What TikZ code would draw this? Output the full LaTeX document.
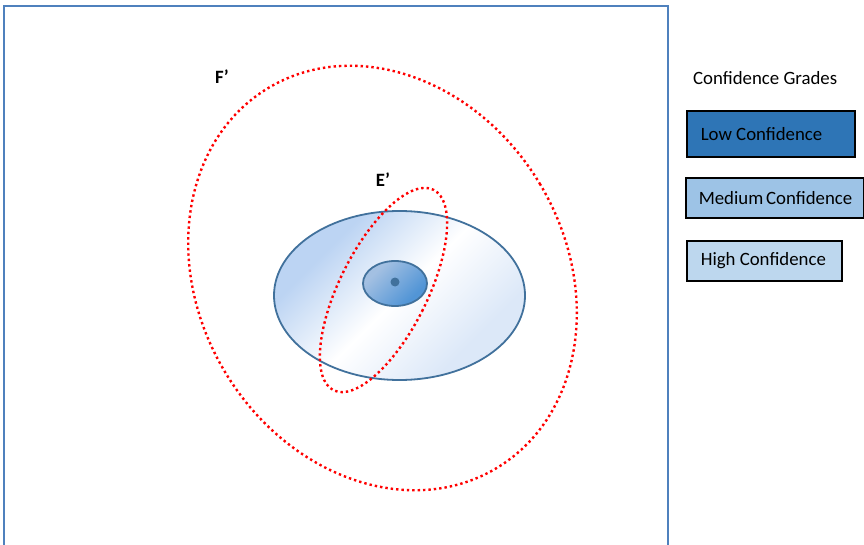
\documentclass[tikz,border=0pt]{standalone}
\usepackage{fontspec}
\setmainfont{Carlito}
\usepackage{xcolor}
\usetikzlibrary{positioning}

\definecolor{framebl}{HTML}{4F81BD}
\definecolor{edgebl}{HTML}{41719C}
\definecolor{lowbl}{HTML}{2E75B6}
\definecolor{medbl}{HTML}{9DC3E6}
\definecolor{highbl}{HTML}{BDD7EE}
\definecolor{fadeA}{HTML}{BCD4F3}
\definecolor{fadeB}{HTML}{DCE8F8}
\definecolor{coreA}{HTML}{A3C0E2}
\definecolor{coreB}{HTML}{5295D6}

\pgfdeclarehorizontalshading{regionfade}{100bp}{color(0bp)=(fadeA); color(30bp)=(fadeA);
  color(50bp)=(white); color(70bp)=(fadeB); color(100bp)=(fadeB)}
\pgfdeclarehorizontalshading{corefade}{100bp}{color(0bp)=(coreA); color(30bp)=(coreA);
  color(70bp)=(coreB); color(100bp)=(coreB)}

\newcommand{\gradetext}[2]{\hbox to #1{#2\hfil}}

\begin{document}
\begin{tikzpicture}[
  x=1pt, y=-1pt,
  font=\fontsize{18.8}{21}\selectfont,
  region/.style={draw=edgebl, line width=1.8pt},
  errline/.style={red, line width=2.4pt, dash pattern=on 2.4pt off 3pt},
  tag/.style={font=\fontsize{18.8}{21}\selectfont\bfseries},
  grade/.style={draw=black, line width=1.6pt, anchor=west, inner xsep=14pt,
                minimum height=40pt},
]
  \useasboundingbox (0,0) rectangle (864,545);
  \clip (0,0) rectangle (864,545);

  % outer frame, open at the bottom
  \draw[framebl, line width=2pt] (4,6) rectangle (668,600);

  % confidence regions
  \draw[region, shading=regionfade, shading angle=-45]
    (399.5,295.5) ellipse [x radius=125.5, y radius=84.5];
  \draw[region, shading=corefade, shading angle=-45]
    (395,283.5) ellipse [x radius=32, y radius=22.5];
  \fill[edgebl] (395,282) circle [radius=4.5];

  % error ellipses
  \draw[errline, rotate around={31:(382.5,278)}]
    (382.5,278) ellipse [x radius=183.4, y radius=221.7];
  \draw[errline, rotate around={-26.5:(383.5,290)}]
    (383.5,290) ellipse [x radius=44, y radius=112];

  \node[tag] (fp) at (222,77) {F’};
  \node[tag] (ep) at (383,180) {E’};

  % legend
  \node[anchor=west, inner sep=0pt] (title) at (693,78) {Confidence Grades};
  \node[grade, fill=lowbl, minimum height=46pt] (low) at (686,134) {\gradetext{140pt}{Low Confidence}};
  \node[grade, fill=medbl, inner xsep=13pt] (medium) at (685,198) {\gradetext{152pt}{Medium Confidence}};
  \node[grade, fill=highbl] (high) at (686,261) {\gradetext{127pt}{High Confidence}};
\end{tikzpicture}
\end{document}
